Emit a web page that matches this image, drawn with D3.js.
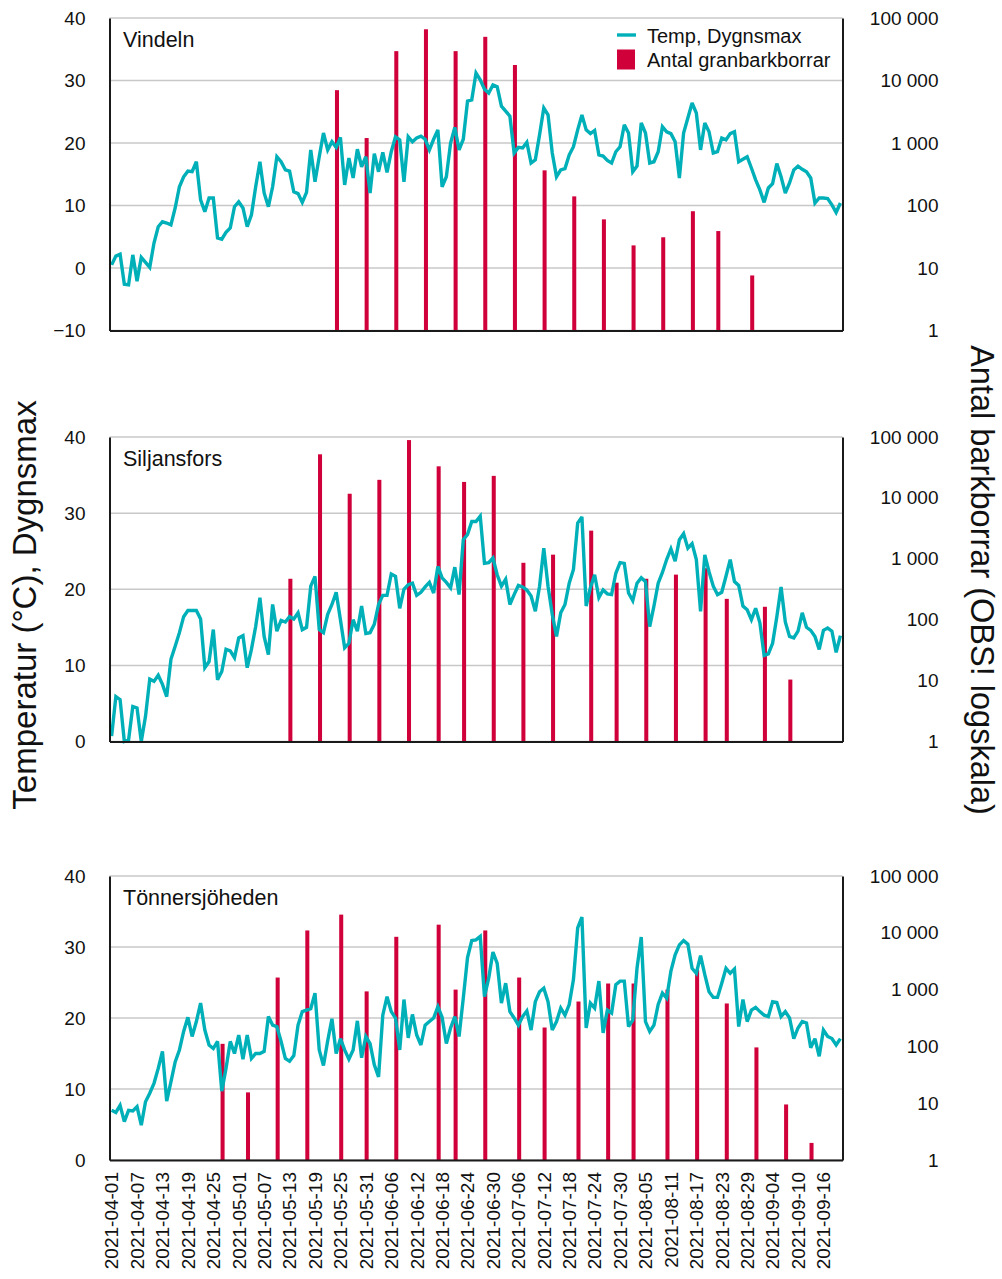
<!DOCTYPE html>
<html>
<head>
<meta charset="utf-8">
<script src="https://cdn.jsdelivr.net/npm/d3@7"></script>
<style>
  html, body { margin: 0; padding: 0; background: #fff; }
  svg { display: block; font-family: "Liberation Sans", Arial, Helvetica, sans-serif; }
</style>
</head>
<body>
<svg id="chart" width="1002" height="1279"></svg>
<script>
// ---------------- DATA ----------------
const stations = ["Vindeln", "Siljansfors", "Tönnersjöheden"];

// daily max temperature 2021-04-01 .. 2021-09-20
const tempVindeln = [
  0.5, 1.9, 2.2, -2.6, -2.7, 2.1, -2.1, 1.7, 0.9, 0.1,
  4.0, 6.6, 7.4, 7.2, 6.9, 9.6, 13.0, 14.6, 15.5, 15.4,
  17.0, 10.9, 9.0, 11.2, 11.2, 4.8, 4.6, 5.7, 6.4, 9.8,
  10.6, 9.6, 6.6, 8.5, 13.0, 17.0, 12.0, 9.8, 13.0, 17.8,
  17.0, 15.7, 15.5, 12.2, 11.9, 10.5, 12.1, 18.9, 13.8, 17.8,
  21.6, 18.9, 20.2, 19.3, 20.9, 13.3, 17.6, 14.4, 19.0, 16.2,
  17.8, 12.0, 18.3, 15.4, 18.5, 15.3, 18.6, 21.0, 20.5, 13.8,
  21.0, 20.2, 20.8, 21.1, 20.6, 18.9, 20.6, 22.1, 13.0, 14.6,
  20.0, 22.5, 18.9, 20.6, 26.7, 26.9, 31.2, 30.1, 28.6, 28.0,
  29.3, 29.0, 25.9, 25.1, 24.3, 18.4, 19.3, 19.2, 20.1, 16.8,
  17.3, 21.3, 25.6, 24.5, 18.4, 14.6, 15.7, 15.9, 18.1, 19.4,
  22.1, 24.5, 22.1, 21.5, 22.0, 18.1, 17.9, 17.2, 16.8, 18.6,
  19.4, 22.9, 21.6, 15.4, 16.3, 23.2, 21.6, 16.8, 17.0, 18.6,
  22.6, 21.8, 21.5, 20.2, 14.4, 21.6, 24.0, 26.4, 24.8, 18.9,
  23.2, 21.8, 18.4, 18.6, 20.8, 20.5, 21.5, 21.8, 17.0, 17.4,
  17.8, 16.0, 14.1, 12.5, 10.5, 12.8, 13.5, 16.7, 14.6, 12.0,
  13.6, 15.7, 16.3, 15.8, 15.4, 14.4, 10.4, 11.2, 11.2, 11.1,
  10.1, 8.9, 10.4
];
const tempSiljansfors = [
  0.7, 5.9, 5.5, 0.0, 0.2, 4.6, 4.4, 0.0, 3.3, 8.2,
  7.9, 8.7, 7.5, 5.9, 10.8, 12.5, 14.3, 16.4, 17.2, 17.2,
  17.2, 16.1, 9.7, 10.5, 14.7, 8.1, 9.2, 12.1, 11.9, 11.0,
  13.6, 13.9, 9.7, 12.1, 15.1, 18.9, 13.8, 11.4, 18.0, 14.5,
  15.9, 15.7, 16.4, 16.1, 16.9, 14.7, 15.0, 20.4, 21.7, 14.7,
  14.3, 16.7, 18.0, 19.6, 16.0, 12.3, 12.9, 16.0, 14.5, 17.8,
  14.2, 14.3, 15.4, 18.0, 19.2, 19.2, 22.0, 21.7, 17.5, 20.0,
  20.6, 20.8, 19.2, 19.6, 20.3, 20.9, 19.5, 23.0, 21.5, 20.9,
  20.2, 22.9, 19.3, 26.5, 27.2, 28.9, 28.9, 29.6, 23.4, 23.5,
  24.1, 21.9, 20.4, 21.3, 18.0, 19.3, 20.5, 20.3, 19.9, 19.1,
  17.1, 20.4, 25.4, 20.4, 16.7, 13.8, 16.9, 18.0, 20.8, 22.6,
  28.7, 29.5, 17.8, 20.2, 21.9, 18.9, 19.9, 19.4, 19.3, 22.1,
  23.5, 23.4, 19.5, 18.5, 20.8, 21.5, 21.0, 15.1, 17.8, 20.8,
  22.2, 23.9, 25.3, 23.7, 26.5, 27.3, 25.4, 26.0, 23.9, 17.1,
  24.5, 22.3, 20.4, 19.3, 19.6, 21.7, 23.9, 21.0, 20.5, 17.8,
  17.3, 16.0, 17.5, 15.6, 11.3, 11.5, 12.9, 16.4, 20.3, 15.7,
  13.8, 13.6, 14.5, 16.9, 15.0, 14.6, 13.8, 12.1, 14.6, 14.9,
  14.5, 11.7, 13.9
];
const tempTonnersjoheden = [
  7.0, 6.7, 7.7, 5.4, 7.0, 6.9, 7.5, 4.9, 8.2, 9.4,
  10.8, 12.9, 15.3, 8.3, 11.0, 13.8, 15.5, 18.1, 20.1, 17.4,
  19.5, 22.1, 18.3, 16.2, 15.7, 16.7, 9.7, 12.9, 16.7, 15.0,
  17.6, 14.2, 17.6, 14.3, 15.0, 15.0, 15.3, 20.2, 19.0, 18.8,
  16.7, 14.3, 13.9, 14.7, 19.0, 20.9, 21.1, 21.3, 23.5, 15.5,
  13.3, 16.8, 19.9, 15.0, 17.1, 15.5, 14.2, 15.5, 19.6, 14.4,
  17.4, 16.4, 13.4, 11.7, 20.4, 23.0, 20.9, 20.0, 15.5, 22.6,
  17.2, 20.5, 17.6, 16.2, 19.0, 19.5, 20.0, 21.6, 20.1, 16.4,
  18.6, 20.2, 17.4, 22.8, 28.5, 30.9, 31.0, 31.5, 23.0, 25.6,
  29.3, 27.7, 22.1, 24.9, 20.9, 20.0, 19.0, 20.2, 21.0, 18.3,
  22.3, 23.7, 24.2, 22.3, 18.3, 19.5, 21.4, 20.4, 21.9, 25.4,
  32.7, 34.2, 18.6, 22.1, 21.4, 25.2, 17.9, 21.1, 20.7, 24.7,
  25.2, 25.2, 18.8, 19.7, 27.0, 31.4, 19.5, 18.1, 19.0, 21.9,
  23.5, 22.8, 26.6, 28.9, 30.3, 30.9, 30.4, 27.0, 26.3, 28.8,
  26.1, 23.7, 22.9, 22.9, 24.9, 27.0, 26.3, 26.9, 18.8, 22.6,
  19.5, 21.1, 21.5, 20.9, 20.4, 20.2, 22.3, 22.2, 20.2, 20.9,
  20.0, 17.1, 18.6, 19.5, 19.3, 15.8, 17.1, 14.6, 18.3, 17.4,
  17.1, 16.2, 17.1
];

// spruce bark beetle catches (log scale)
const beetleDatesVindeln = ["2021-05-24","2021-05-31","2021-06-07","2021-06-14","2021-06-21","2021-06-28","2021-07-05","2021-07-12","2021-07-19","2021-07-26","2021-08-02","2021-08-09","2021-08-16","2021-08-22","2021-08-30"];
const beetleVindeln = [7000, 1200, 29500, 66000, 29500, 50000, 17700, 365, 140, 60, 23, 31, 81, 39, 7.6];

const beetleDatesSiljansfors = ["2021-05-13","2021-05-20","2021-05-27","2021-06-03","2021-06-10","2021-06-17","2021-06-23","2021-06-30","2021-07-07","2021-07-14","2021-07-23","2021-07-29","2021-08-05","2021-08-12","2021-08-19","2021-08-24","2021-09-02","2021-09-08"];
const beetleSiljansfors = [470, 52000, 11700, 19800, 89000, 33000, 18300, 23000, 860, 1170, 2900, 405, 470, 550, 700, 220, 163, 10.4];

const beetleDatesTonnersjoheden = ["2021-04-27","2021-05-03","2021-05-10","2021-05-17","2021-05-25","2021-05-31","2021-06-07","2021-06-17","2021-06-21","2021-06-28","2021-07-06","2021-07-12","2021-07-20","2021-07-27","2021-08-02","2021-08-10","2021-08-17","2021-08-24","2021-08-31","2021-09-07","2021-09-13"];
const beetleTonnersjoheden = [111, 15.5, 1630, 11000, 20900, 930, 8500, 13900, 1000, 11000, 1630, 215, 617, 1280, 1280, 1000, 2200, 570, 96, 9.5, 2.0];

const dateTickLabels = ["2021-04-01","2021-04-07","2021-04-13","2021-04-19","2021-04-25","2021-05-01","2021-05-07","2021-05-13","2021-05-19","2021-05-25","2021-05-31","2021-06-06","2021-06-12","2021-06-18","2021-06-24","2021-06-30","2021-07-06","2021-07-12","2021-07-18","2021-07-24","2021-07-30","2021-08-05","2021-08-11","2021-08-17","2021-08-23","2021-08-29","2021-09-04","2021-09-10","2021-09-16"];
const logTickValues = [1, 10, 100, 1000, 10000, 100000];
const logTickLabels = ["1", "10", "100", "1 000", "10 000", "100 000"];
const tempTicksTop = [-10, 0, 10, 20, 30, 40];
const tempTicksOther = [0, 10, 20, 30, 40];

const legendLabels = ["Temp, Dygnsmax", "Antal granbarkborrar"];
const leftTitle = "Temperatur (°C), Dygnsmax";
const rightTitle = "Antal barkborrar (OBS! logskala)";

// ---------------- LAYOUT ----------------
const fmt = d3.timeFormat("%Y-%m-%d");
const days = d3.timeDay.range(new Date(2021, 3, 1), new Date(2021, 8, 21)).map(fmt);

const LEFT = 109.5, RIGHT = 842.5;
const TEAL = "#00b0b9", RED = "#d0003a";
const FONT = "'Liberation Sans', Arial, Helvetica, sans-serif";

const svg = d3.select("#chart");
const x = d3.scaleBand().domain(days).range([LEFT, RIGHT]).padding(0);

const panels = [
  { name: stations[0], top: 18, bottom: 330.5, tdom: [-10, 40], tticks: tempTicksTop, temps: tempVindeln, bDates: beetleDatesVindeln, bVals: beetleVindeln },
  { name: stations[1], top: 437, bottom: 741.5, tdom: [0, 40], tticks: tempTicksOther, temps: tempSiljansfors, bDates: beetleDatesSiljansfors, bVals: beetleSiljansfors },
  { name: stations[2], top: 876, bottom: 1160, tdom: [0, 40], tticks: tempTicksOther, temps: tempTonnersjoheden, bDates: beetleDatesTonnersjoheden, bVals: beetleTonnersjoheden }
];

panels.forEach((p, pi) => {
  const g = svg.append("g");
  const yT = d3.scaleLinear().domain(p.tdom).range([p.bottom, p.top]);
  const yL = d3.scaleLog().domain([1, 100000]).range([p.bottom, p.top]);

  // gridlines
  g.append("g").selectAll("line").data(p.tticks).join("line")
    .attr("x1", LEFT).attr("x2", RIGHT)
    .attr("y1", d => yT(d)).attr("y2", d => yT(d))
    .attr("stroke", "#c8c8c8").attr("stroke-width", 1.5);

  // bars
  const bw = x.bandwidth() * 0.95;
  g.append("g").selectAll("rect").data(p.bDates.map((d, i) => ({ d, v: p.bVals[i] }))).join("rect")
    .attr("x", d => x(d.d) + x.bandwidth() / 2 - bw / 2 + 0.8)
    .attr("width", bw)
    .attr("y", d => yL(d.v))
    .attr("height", d => p.bottom - yL(d.v))
    .attr("fill", RED);

  // temperature line
  const line = d3.line().x((d, i) => x(days[i]) + x.bandwidth() / 2).y(d => yT(d));
  g.append("path").datum(p.temps)
    .attr("d", line)
    .attr("fill", "none")
    .attr("stroke", TEAL)
    .attr("stroke-width", 3.4)
    .attr("stroke-linejoin", "miter")
    .attr("stroke-miterlimit", 3);

  // left axis
  const la = g.append("g").attr("transform", `translate(${LEFT},0)`)
    .call(d3.axisLeft(yT).tickValues(p.tticks).tickSize(0).tickPadding(24)
      .tickFormat(d => d < 0 ? "\u2212" + Math.abs(d) : String(d)));
  la.select(".domain").attr("stroke", "#1a1a1a").attr("stroke-width", 2);
  la.selectAll("text").attr("font-size", 19).attr("font-family", FONT).attr("fill", "#111");

  // right axis
  const ra = g.append("g").attr("transform", `translate(${RIGHT},0)`)
    .call(d3.axisRight(yL).tickValues(logTickValues).tickSize(0).tickPadding(96)
      .tickFormat((d, i) => logTickLabels[i]));
  ra.select(".domain").attr("stroke", "#1a1a1a").attr("stroke-width", 2);
  ra.selectAll("text").attr("font-size", 19).attr("font-family", FONT).attr("fill", "#111")
    .attr("text-anchor", "end");

  // bottom axis
  const ba = g.append("g").attr("transform", `translate(0,${p.bottom})`)
    .call(d3.axisBottom(x).tickValues(pi === 2 ? dateTickLabels : []).tickSize(0));
  ba.select(".domain").attr("stroke", "#1a1a1a").attr("stroke-width", 2.2);
  if (pi === 2) {
    ba.selectAll("text")
      .attr("font-size", 19).attr("font-family", FONT).attr("fill", "#111")
      .attr("transform", "rotate(-90)")
      .attr("text-anchor", "end")
      .attr("x", -12).attr("y", 0).attr("dy", "0.36em");
  }

  // station title
  g.append("text").attr("x", 123).attr("y", p.top + 29)
    .attr("font-size", 21.5).attr("font-family", FONT).attr("fill", "#111")
    .text(p.name);
});

// legend
const lg = svg.append("g");
lg.append("line").attr("x1", 617).attr("x2", 636).attr("y1", 35).attr("y2", 35)
  .attr("stroke", TEAL).attr("stroke-width", 3.4);
lg.append("text").attr("x", 647).attr("y", 43).attr("font-size", 20).attr("font-family", FONT)
  .attr("fill", "#111").text(legendLabels[0]);
lg.append("rect").attr("x", 617).attr("y", 49.5).attr("width", 18).attr("height", 20).attr("fill", RED);
lg.append("text").attr("x", 647).attr("y", 67).attr("font-size", 20).attr("font-family", FONT)
  .attr("fill", "#111").text(legendLabels[1]);

// axis titles
svg.append("text")
  .attr("transform", "translate(36,605) rotate(-90)")
  .attr("text-anchor", "middle").attr("font-size", 33).attr("font-family", FONT).attr("fill", "#111")
  .text(leftTitle);
svg.append("text")
  .attr("transform", "translate(971,580) rotate(90)")
  .attr("text-anchor", "middle").attr("font-size", 32.5).attr("font-family", FONT).attr("fill", "#111")
  .text(rightTitle);
</script>
</body>
</html>
